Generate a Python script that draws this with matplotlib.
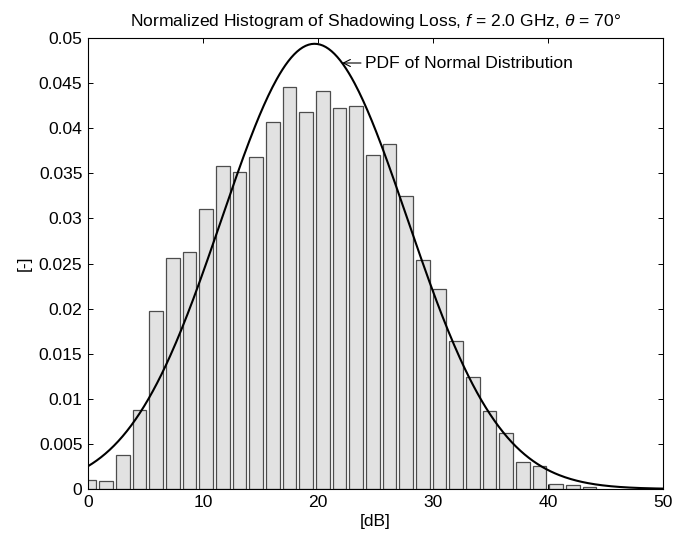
import numpy as np
import matplotlib.pyplot as plt

plt.rcParams['font.family'] = ['Liberation Sans', 'DejaVu Sans']
plt.rcParams['mathtext.fontset'] = 'custom'
plt.rcParams['mathtext.rm'] = 'Liberation Sans'
plt.rcParams['mathtext.it'] = 'Liberation Sans:italic'

# histogram of shadowing loss (normalized so area = 1)
bin_start = 0.14      # centre of first bin [dB]
bin_width = 1.449     # [dB]
density = [0.00103, 0.00092, 0.0038, 0.00878, 0.0197, 0.0256, 0.0263, 0.0310,
           0.0358, 0.0351, 0.0368, 0.0407, 0.0446, 0.0418, 0.0441, 0.0422,
           0.0425, 0.0370, 0.0383, 0.0325, 0.0254, 0.0222, 0.0164, 0.01245,
           0.00866, 0.00626, 0.00296, 0.0025, 0.00058, 0.00039, 0.0002]

# fitted normal distribution
mu = 19.7
sigma = 8.08

xticks = [0, 10, 20, 30, 40, 50]
yticks = [0, 0.005, 0.01, 0.015, 0.02, 0.025, 0.03, 0.035, 0.04, 0.045, 0.05]
ytick_labels = ['0', '0.005', '0.01', '0.015', '0.02', '0.025', '0.03',
                '0.035', '0.04', '0.045', '0.05']

fs = 12.6
centers = bin_start + bin_width * np.arange(len(density))

fig = plt.figure(figsize=(6.74, 5.38), dpi=100)
ax = fig.add_axes([0.1306, 0.0911, 0.853, 0.838])

ax.bar(centers, density, width=0.82 * bin_width, color='#e2e2e2',
       edgecolor='#4d4d4d', linewidth=0.9, zorder=2)

x = np.linspace(0, 50, 400)
pdf = np.exp(-(x - mu) ** 2 / (2 * sigma ** 2)) / (sigma * np.sqrt(2 * np.pi))
ax.plot(x, pdf, color='black', lw=1.5, zorder=3)

xa = 22.1
ya = np.exp(-(xa - mu) ** 2 / (2 * sigma ** 2)) / (sigma * np.sqrt(2 * np.pi))
ax.annotate('PDF of Normal Distribution', xy=(xa, ya), xytext=(24.1, ya),
            va='center', ha='left', fontsize=fs,
            arrowprops=dict(arrowstyle='->', lw=0.8, color='black',
                            shrinkA=1, shrinkB=0))

ax.set_xlim(0, 50)
ax.set_ylim(0, 0.05)
ax.set_xticks(xticks)
ax.set_yticks(yticks)
ax.set_yticklabels(ytick_labels)
ax.tick_params(direction='in', top=True, right=True, labelsize=fs,
               length=3.8, width=0.7, pad=4)
for s in ax.spines.values():
    s.set_linewidth(0.8)

ax.set_xlabel('[dB]', fontsize=fs, labelpad=3)
ax.set_ylabel('[-]', fontsize=fs, labelpad=5)
ax.set_title(r'Normalized Histogram of Shadowing Loss, $f$ = 2.0 GHz, $\theta$ = 70°',
             fontsize=fs, pad=9)

fig.savefig('out.png', dpi=100)
